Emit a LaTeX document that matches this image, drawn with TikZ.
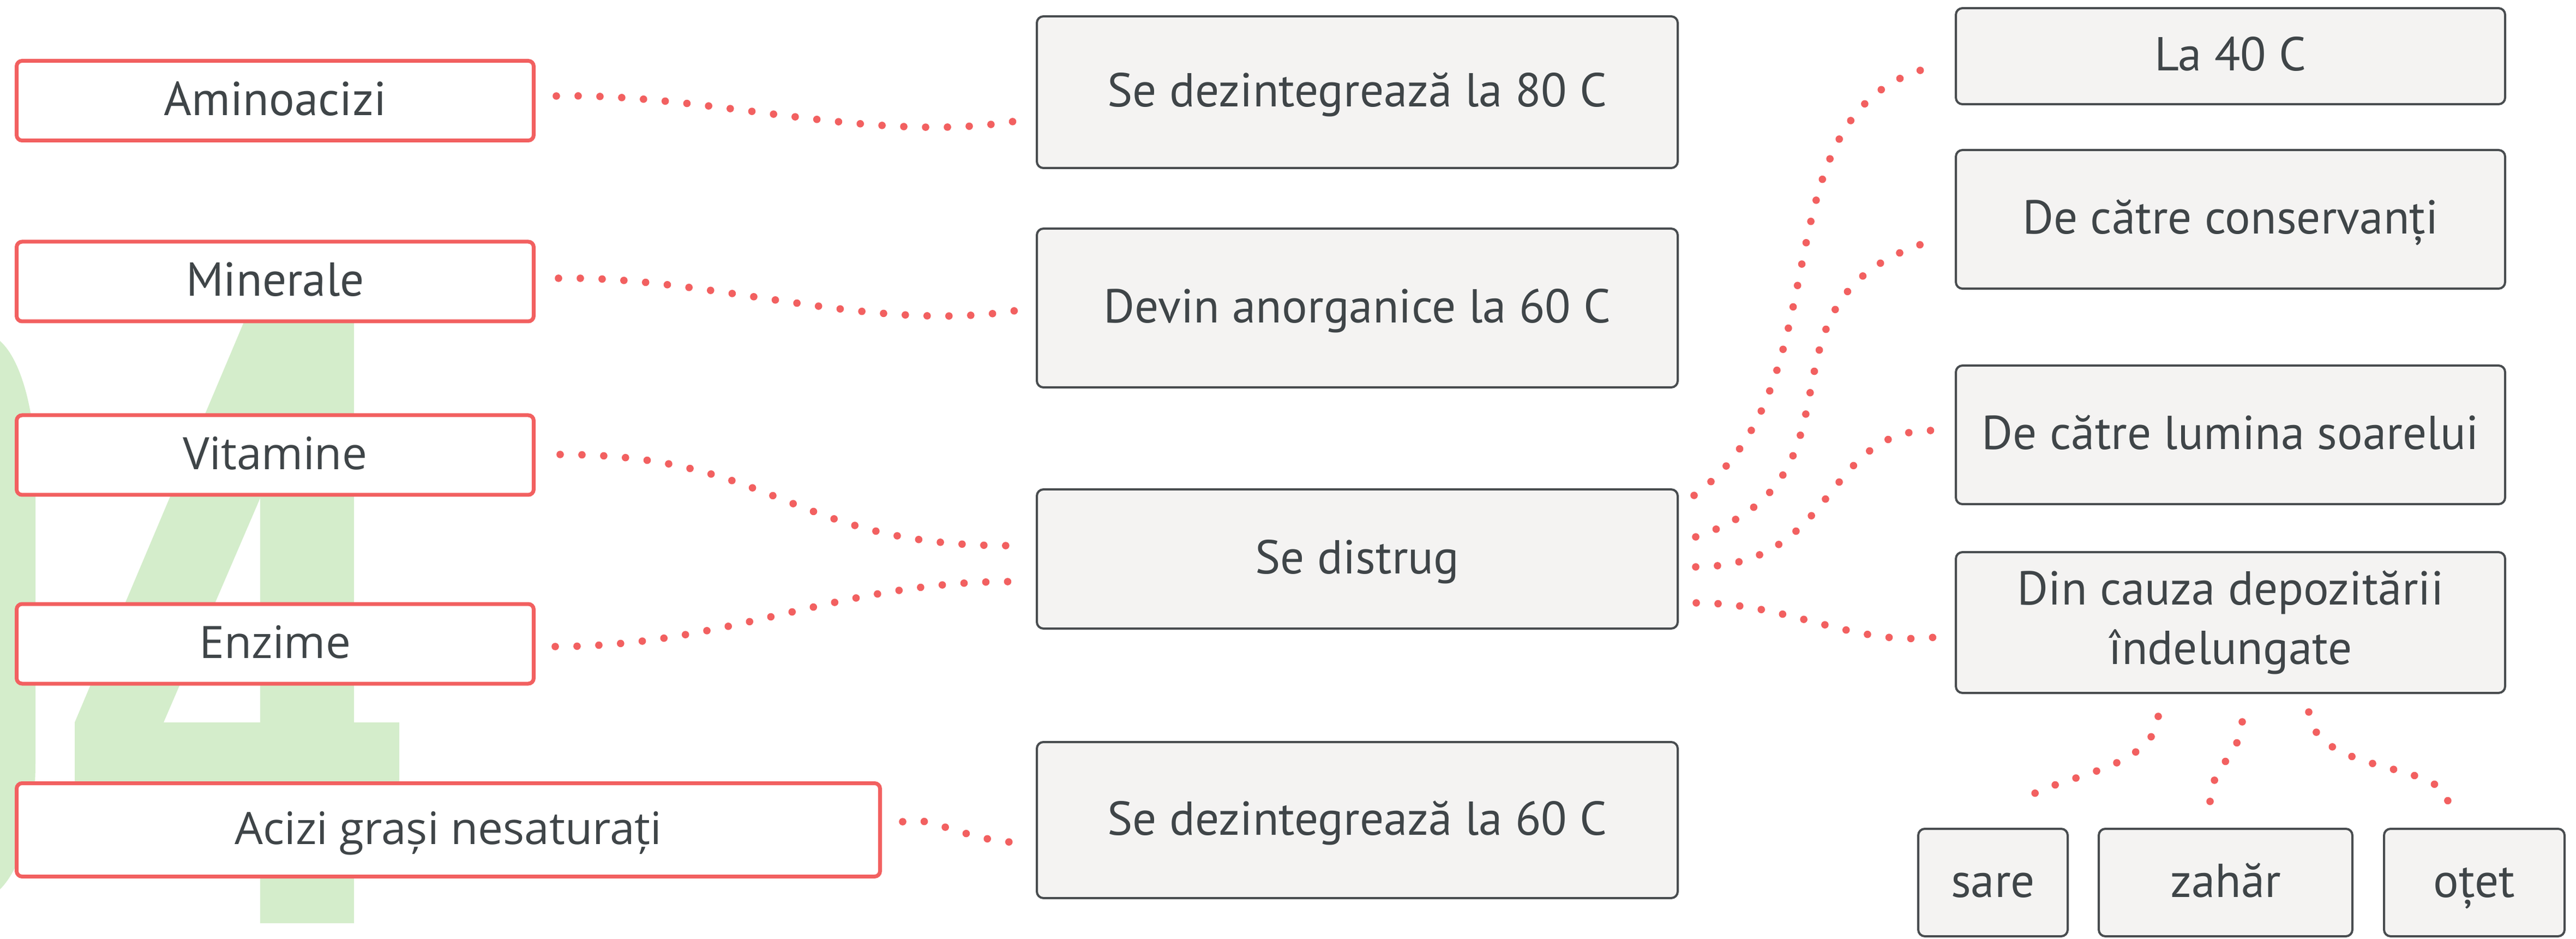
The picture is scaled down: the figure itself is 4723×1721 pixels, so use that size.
\documentclass[tikz,border=0pt]{standalone}
\usepackage{fontspec}
\setmainfont{PT Sans}
\newfontfamily\opensans{Open Sans}
\definecolor{redc}{HTML}{F26060}
\definecolor{txt}{HTML}{3F4548}
\definecolor{boxfill}{HTML}{F4F3F2}
\definecolor{boxline}{HTML}{484C4F}
\definecolor{wm}{HTML}{D4EDCB}
\begin{document}
\begin{tikzpicture}[x=0.25pt,y=-0.25pt,
  redbox/.style={draw=redc, line width=1.75pt, fill=white, rounded corners=2.5pt, inner sep=0pt,
    text=txt, font=\fontsize{21.8}{27}\selectfont, minimum width=237pt, minimum height=36.5pt,
    text height=15pt, text depth=1.7pt},
  osfont/.style={font=\opensans\fontsize{20.5}{25}\selectfont},
  graybox/.style={draw=boxline, line width=1pt, fill=boxfill, rounded corners=3pt, inner sep=0pt,
    text=txt, font=\fontsize{21.8}{27.25}\selectfont, align=center},
  oneline/.style={text height=15pt, text depth=1.5pt},
  midbox/.style={graybox, oneline, minimum width=293.75pt},
  rightbox/.style={graybox, minimum width=251.75pt},
  smallbox/.style={graybox, oneline, minimum height=49.25pt},
  dots/.style={draw=redc, line width=3.4pt, line cap=round, dash pattern=on 0pt off 10pt}]
\useasboundingbox (0,0) rectangle (4723,1721);
\fill[white] (0,0) rectangle (4723,1721);
% watermark "04"
\fill[wm] (0,625) .. controls (40,660) and (65,760) .. (65,860) -- (65,1400)
  .. controls (65,1500) and (40,1590) .. (0,1630) -- cycle;
\fill[wm, even odd rule] (460,560) -- (649,560) -- (649,1324) -- (732,1324) -- (732,1510)
  -- (649,1510) -- (649,1692) -- (477,1692) -- (477,1510) -- (137,1510) -- (137,1324) -- cycle
  (477,913) -- (477,1324) -- (300,1324) -- cycle;
% left boxes
\node[redbox] (amino) at (504.5,184.5) {Aminoacizi};
\node[redbox] (miner) at (504.5,516) {Minerale};
\node[redbox, osfont] (vit) at (504.5,834) {Vitamine};
\node[redbox, osfont] (enz) at (504.5,1180) {Enzime};
\node[redbox, osfont, minimum width=395.75pt, minimum height=42.75pt] (acizi) at (822,1521) {Acizi grași nesaturați};
% middle boxes
\node[midbox, minimum height=69.5pt] (m1) at (2488.5,169) {Se dezintegrează la 80 C};
\node[midbox, minimum height=72.75pt] (m2) at (2488.5,564.5) {Devin anorganice la 60 C};
\node[midbox, minimum height=63.75pt] (m3) at (2488.5,1024.5) {Se distrug};
\node[midbox, minimum height=71.5pt] (m4) at (2488.5,1503) {Se dezintegrează la 60 C};
% right boxes
\node[rightbox, oneline, minimum height=44pt] (r1) at (4089.5,103) {La 40 C};
\node[rightbox, oneline, minimum height=63.5pt] (r2) at (4089.5,402) {De către conservanți};
\node[rightbox, oneline, minimum height=63.5pt] (r3) at (4089.5,797) {De către lumina soarelui};
\node[rightbox, minimum height=64.5pt] (r4) at (4089.5,1141) {Din cauza depozitării\\îndelungate};
% bottom boxes
\node[smallbox, minimum width=68.5pt] (b1) at (3654,1617.5) {sare};
\node[smallbox, minimum width=116.25pt] (b2) at (4080.5,1617.5) {zahăr};
\node[smallbox, minimum width=82.75pt] (b3) at (4536.5,1617.5) {oțet};
% connector end points
\coordinate (aminoOut) at (1020,176);   \coordinate (m1In) at (1862,222);
\coordinate (minerOut) at (1024,510);   \coordinate (m2In) at (1864,569);
\coordinate (vitOut) at (1027,833);     \coordinate (m3InA) at (1848,1000);
\coordinate (enzOut) at (1018,1185);    \coordinate (m3InB) at (1852,1066);
\coordinate (aciziOut) at (1655,1506);  \coordinate (m4In) at (1885,1544);
\coordinate (m3OutA) at (3106,908);     \coordinate (r1In) at (3556,120);
\coordinate (m3OutB) at (3109,984);     \coordinate (r2In) at (3531,445);
\coordinate (m3OutC) at (3109,1039);    \coordinate (r3In) at (3541,789);
\coordinate (m3OutD) at (3110,1105);    \coordinate (r4In) at (3546,1168);
\coordinate (r4OutA) at (3957,1313);    \coordinate (b1In) at (3708,1474);
\coordinate (r4OutB) at (4111,1323);    \coordinate (b2In) at (4052,1470);
\coordinate (r4OutC) at (4233,1305);    \coordinate (b3In) at (4488,1468);
% connectors
\draw[dots] (aminoOut) .. controls +(280,-6) and +(-262,43) .. (m1In);
\draw[dots] (minerOut) .. controls +(276,-5) and +(-264,43) .. (m2In);
\draw[dots] (vitOut) .. controls +(398,0) and +(-398,0) .. (m3InA);
\draw[dots] (enzOut) .. controls +(318,0) and +(-318,0) .. (m3InB);
\draw[dots] (aciziOut) .. controls +(45,-16) and +(-105,4) .. (m4In);
\draw[dots] (m3OutA) .. controls +(287,-209) and +(-348,68) .. (r1In);
\draw[dots] (m3OutB) .. controls +(340,-112) and +(-340,109) .. (r2In);
\draw[dots] (m3OutC) .. controls +(260,0) and +(-200,0) .. (r3In);
\draw[dots] (m3OutD) .. controls +(170,0) and +(-146,17) .. (r4In);
\draw[dots] (r4OutA) .. controls +(-7,107) and +(22,-49) .. (b1In);
\draw[dots] (r4OutB) .. controls +(-1,57) and +(-2,-60) .. (b2In);
\draw[dots] (r4OutC) .. controls +(12,115) and +(-13,-73) .. (b3In);
\end{tikzpicture}
\end{document}
